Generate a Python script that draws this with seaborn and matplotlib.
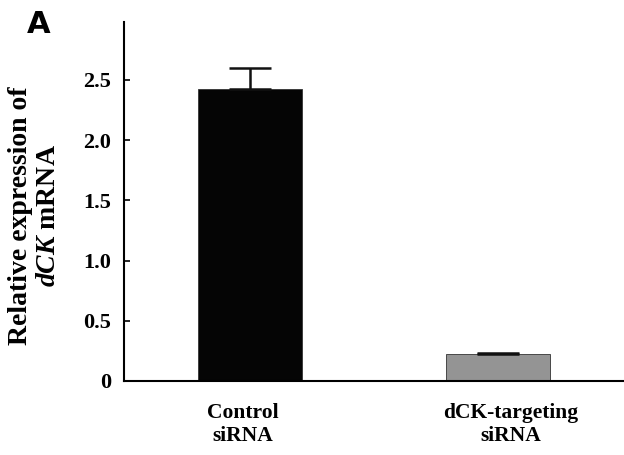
import matplotlib
matplotlib.use("Agg")
import matplotlib.pyplot as plt
import matplotlib.transforms as mtransforms
import seaborn as sns
import numpy as np

categories = ["Control\nsiRNA", "dCK-targeting\nsiRNA"]
values = [2.42, 0.22]
errors_up = [0.18, 0.01]
bar_colors = ["#050505", "#949494"]
yticks = [0, 0.5, 1.0, 1.5, 2.0, 2.5]
ytick_labels = ["0", "0.5", "1.0", "1.5", "2.0", "2.5"]

sns.set_style("white")
plt.rcParams["font.family"] = ["Liberation Serif", "DejaVu Serif"]
plt.rcParams["mathtext.fontset"] = "custom"
plt.rcParams["mathtext.rm"] = "Liberation Serif:bold"
plt.rcParams["mathtext.it"] = "Liberation Serif:italic:bold"
for key in ["text.color", "axes.labelcolor", "xtick.color", "ytick.color"]:
    plt.rcParams[key] = "black"

fig = plt.figure(figsize=(6.24, 4.55), dpi=100)
ax = fig.add_axes([124/624, 1 - 381/455, 1 - 124/624, (381 - 22)/455])

sns.barplot(x=categories, y=values, hue=categories, palette=bar_colors,
            width=0.42, ax=ax, legend=False, edgecolor="#333333", linewidth=0.6)
ax.errorbar(x=np.arange(len(values)), y=values,
            yerr=[np.zeros(len(values)), errors_up],
            fmt="none", ecolor="#111111", elinewidth=1.8, capsize=15, capthick=1.8)

ax.set_xlim(-0.51, 1.51)
ax.set_ylim(0, 2.98)
ax.set_yticks(yticks)
ax.set_yticklabels(ytick_labels, fontsize=16, fontweight="bold")
ax.tick_params(axis="y", direction="in", length=4, width=1.2, pad=9, left=True)
ax.tick_params(axis="x", length=0, pad=16)
shifts = [-7, 13]
for lab, dx in zip(ax.get_xticklabels(), shifts):
    lab.set_fontsize(15.5)
    lab.set_fontweight("bold")
    lab.set_transform(lab.get_transform() +
                      mtransforms.ScaledTranslation(dx / 100, 0, fig.dpi_scale_trans))

sns.despine(ax=ax)
ax.spines["left"].set_linewidth(1.5)
ax.spines["bottom"].set_linewidth(1.5)
ax.spines["left"].set_color("black")
ax.spines["bottom"].set_color("black")

ax.set_xlabel("")
ax.set_ylabel("Relative expression of\n$\\mathit{dCK}$ mRNA", fontsize=20,
              fontweight="bold", linespacing=1.15)
ax.yaxis.set_label_coords(-0.126, 0.46)

fig.text(27/624, 1 - 33/455, "A", fontsize=22, fontweight="bold",
         family=["DejaVu Sans"], color="black")

fig.savefig("out.png", dpi=100)
